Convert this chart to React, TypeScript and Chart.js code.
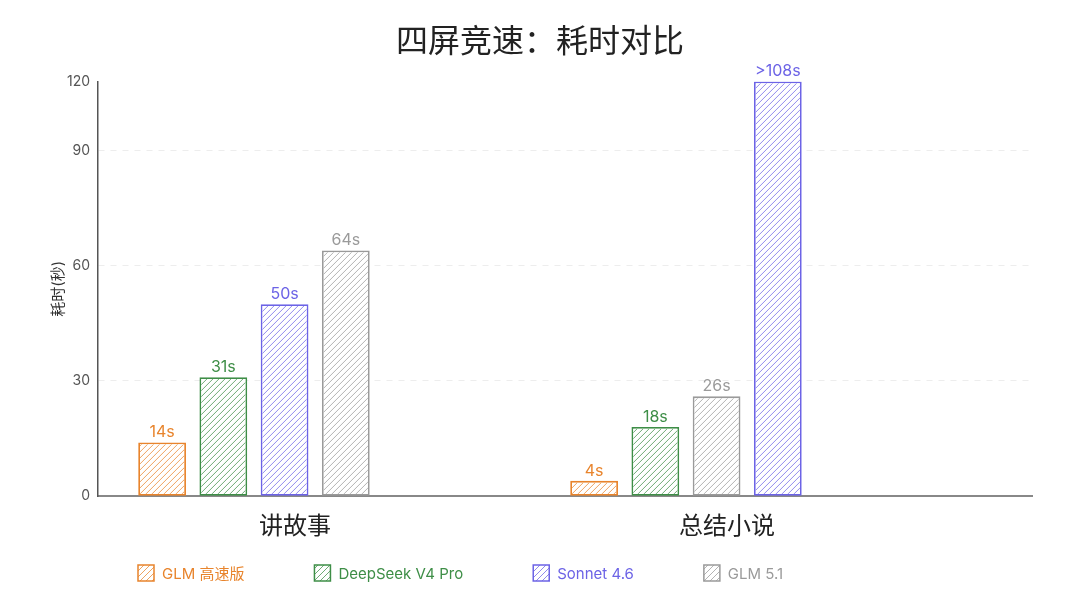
import React, { useEffect, useRef } from 'react';
import { Chart, registerables } from 'chart.js';

Chart.register(...registerables);

const FONT = 'Inter, "Noto Sans CJK SC", "Noto Sans", sans-serif';

const chartTitle = '四屏竞速：耗时对比';
const yAxisTitle = '耗时(秒)';
const categories = ['讲故事', '总结小说'];
const models = ['GLM 高速版', 'DeepSeek V4 Pro', 'Sonnet 4.6', 'GLM 5.1'];
const modelColors = ['#E8842C', '#3E8E47', '#6C63E6', '#9A9A9A'];
const storyTimes = [14, 31, 50, 64];
const summaryTimes = [4, 18, 108, 26];
const storyLabels = ['14s', '31s', '50s', '64s'];
const summaryLabels = ['4s', '18s', '>108s', '26s'];
const yTickValues = [0, 30, 60, 90, 108];
const yTickLabels = ['0', '30', '60', '90', '120'];

const groupTimes = [storyTimes, summaryTimes];
const groupLabels = [storyLabels, summaryLabels];

function drawHatch(
  ctx: CanvasRenderingContext2D,
  left: number,
  top: number,
  right: number,
  bottom: number,
  color: string,
  step = 6
) {
  const h = bottom - top;
  ctx.save();
  ctx.beginPath();
  ctx.rect(left, top, right - left, h);
  ctx.clip();
  ctx.strokeStyle = color;
  ctx.globalAlpha = 0.75;
  ctx.lineWidth = 1;
  ctx.beginPath();
  const start = Math.floor((left - h) / step) * step;
  for (let k = start; k <= right; k += step) {
    ctx.moveTo(k, bottom);
    ctx.lineTo(k + h, top);
  }
  ctx.stroke();
  ctx.restore();
}

export default function App() {
  const ref = useRef<HTMLCanvasElement | null>(null);

  useEffect(() => {
    if (!ref.current) return;
    Chart.defaults.font.family = FONT;

    // order models within each group by time (ascending)
    const orders = groupTimes.map((times) =>
      times.map((_, i) => i).sort((a, b) => times[a] - times[b])
    );

    const datasets = models.map((_, slot) => {
      const modelIdx = orders.map((o) => o[slot]);
      return {
        label: 'slot' + slot,
        modelIdx,
        data: modelIdx.map((m, gi) => ({ x: gi, y: groupTimes[gi][m] })),
        backgroundColor: '#ffffff',
        hoverBackgroundColor: '#ffffff',
        borderColor: modelIdx.map((m) => modelColors[m]),
        hoverBorderColor: modelIdx.map((m) => modelColors[m]),
        borderWidth: 1.8,
        borderSkipped: false,
        categoryPercentage: 0.567,
        barPercentage: 0.78,
      };
    });

    const hatchPlugin = {
      id: 'barHatch',
      afterDatasetsDraw(chart: any) {
        const ctx = chart.ctx;
        chart.data.datasets.forEach((ds: any, di: number) => {
          const meta = chart.getDatasetMeta(di);
          meta.data.forEach((el: any, i: number) => {
            const m = ds.modelIdx[i];
            const bw = 1.8;
            const l = el.x - el.width / 2 + bw;
            const r = el.x + el.width / 2 - bw;
            const t = Math.min(el.y, el.base) + bw;
            const b = Math.max(el.y, el.base) - bw;
            drawHatch(ctx, l, t, r, b, modelColors[m]);
          });
        });
      },
    };

    const valueLabelPlugin = {
      id: 'valueLabels',
      afterDatasetsDraw(chart: any) {
        const ctx = chart.ctx;
        chart.data.datasets.forEach((ds: any, di: number) => {
          const meta = chart.getDatasetMeta(di);
          meta.data.forEach((el: any, i: number) => {
            const m = ds.modelIdx[i];
            ctx.save();
            ctx.font = '16px ' + FONT;
            ctx.fillStyle = modelColors[m];
            ctx.textAlign = 'center';
            ctx.textBaseline = 'bottom';
            ctx.fillText(groupLabels[i][m], el.x, el.y - 2);
            ctx.restore();
          });
        });
      },
    };

    const legendPlugin = {
      id: 'hatchLegend',
      afterDraw(chart: any) {
        const ctx = chart.ctx;
        const y = chart.height - 23;
        let x = chart.chartArea.left + 40;
        const box = 16;
        ctx.save();
        ctx.font = '15px ' + FONT;
        ctx.textBaseline = 'middle';
        ctx.textAlign = 'left';
        models.forEach((name, i) => {
          ctx.fillStyle = '#ffffff';
          ctx.fillRect(x, y - box / 2, box, box);
          drawHatch(ctx, x, y - box / 2, x + box, y + box / 2, modelColors[i], 6);
          ctx.strokeStyle = modelColors[i];
          ctx.lineWidth = 1.5;
          ctx.strokeRect(x, y - box / 2, box, box);
          ctx.fillStyle = modelColors[i];
          ctx.fillText(name, x + box + 8, y + 1);
          const w = ctx.measureText(name).width;
          x += box + 8 + w + 70;
        });
        ctx.restore();
      },
    };

    const chart = new Chart(ref.current, {
      type: 'bar',
      data: { datasets: datasets as any },
      plugins: [hatchPlugin, valueLabelPlugin, legendPlugin],
      options: {
        animation: false,
        responsive: true,
        maintainAspectRatio: false,
        layout: { padding: { left: 40, right: 40, top: 0, bottom: 39 } },
        plugins: {
          legend: { display: false },
          tooltip: { enabled: false },
          title: {
            display: true,
            text: chartTitle,
            color: '#222',
            font: { size: 32, weight: 'normal', family: FONT },
            padding: { top: 15, bottom: 20 },
          },
        },
        scales: {
          x: {
            type: 'linear',
            min: -0.361,
            max: 1.801,
            offset: false,
            grid: { display: false, drawTicks: false },
            border: { display: true, color: '#888', width: 2 },
            afterBuildTicks: (scale: any) => {
              scale.ticks = categories.map((_, i) => ({ value: i }));
            },
            ticks: {
              autoSkip: false,
              maxRotation: 0,
              padding: 16,
              labelOffset: 41,
              color: '#222',
              font: { size: 24, family: FONT },
              callback: (_v: any, i: number) => categories[i],
            },
          },
          y: {
            type: 'linear',
            min: 0,
            max: 108,
            afterBuildTicks: (scale: any) => {
              scale.ticks = yTickValues.map((v) => ({ value: v }));
            },
            afterFit: (scale: any) => {
              scale.width = 50;
            },
            grid: {
              drawTicks: false,
              color: (c: any) =>
                c.tick && (c.tick.value === 0 || c.tick.value === 108)
                  ? 'rgba(0,0,0,0)'
                  : 'rgba(0,0,0,0.07)',
              lineWidth: 1,
            },
            border: { display: true, color: '#555', width: 1.5, dash: [6, 6] },
            ticks: {
              padding: 8,
              color: '#555',
              font: { size: 14, family: FONT },
              callback: (_v: any, i: number) => yTickLabels[i],
            },
            title: {
              display: true,
              text: yAxisTitle,
              color: '#333',
              font: { size: 15, family: FONT },
              padding: { top: 1, bottom: 0 },
            },
          },
        },
      } as any,
    });

    return () => chart.destroy();
  }, []);

  return (
    <div style={{ width: 1064, height: 588, position: 'relative' }}>
      <canvas ref={ref} />
    </div>
  );
}
